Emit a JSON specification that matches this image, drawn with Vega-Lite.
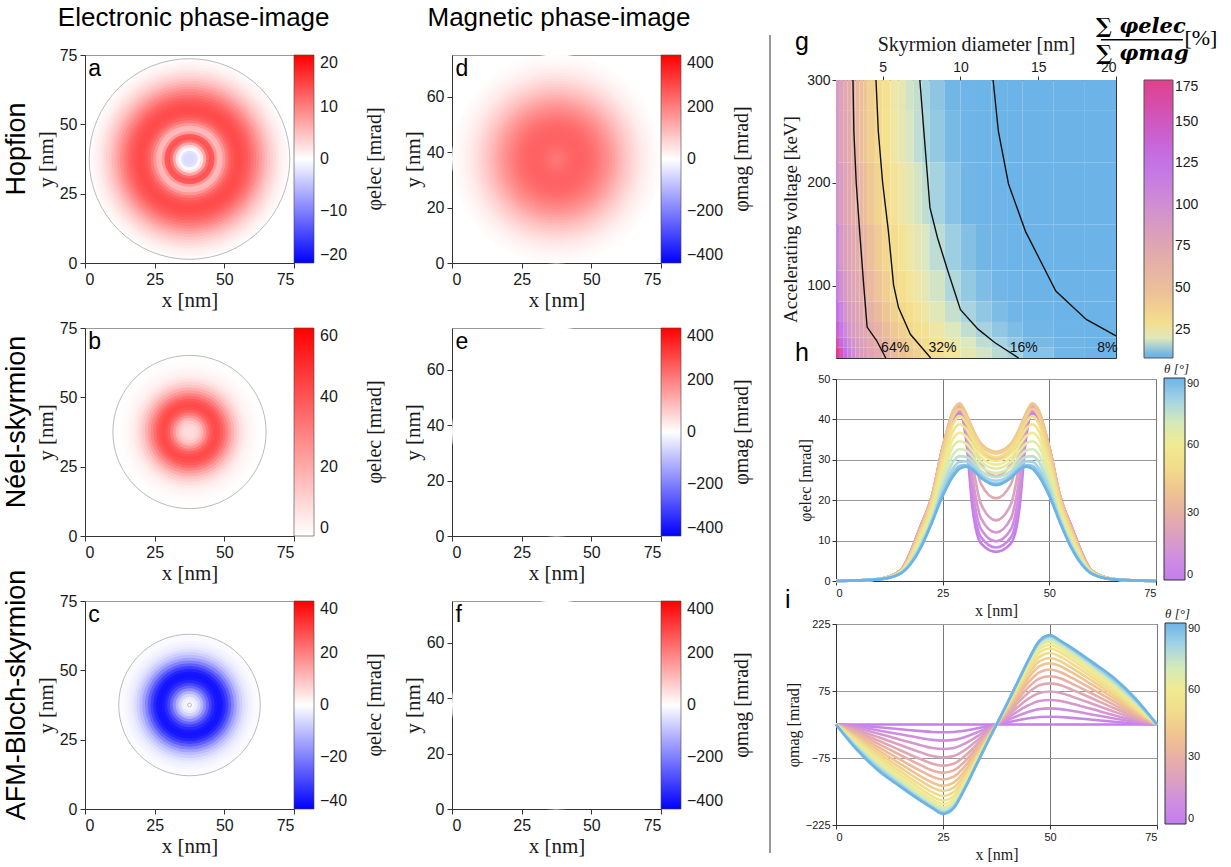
{
"$schema":"https://vega.github.io/schema/vega-lite/v6.json",
"background":"white",
"padding":{"left":0,"top":0,"right":0,"bottom":0},
"config":{"view":{"stroke":null},"font":"Liberation Sans",
"axis":{"labelFont":"Liberation Sans","titleFont":"Liberation Serif","titleFontWeight":"normal","labelColor":"#1a1a1a","titleColor":"#1a1a1a","domainColor":"#333333","tickColor":"#333333","grid":false,"labelOverlap":false},
"legend":{"labelFont":"Liberation Sans","titleFont":"Liberation Serif","titleFontWeight":"normal","labelColor":"#1a1a1a","titleColor":"#1a1a1a","titleLimit":400,"labelOverlap":false},
"title":{"font":"Liberation Sans","fontWeight":"normal","color":"#000000"},
"text":{"font":"Liberation Sans"}},
"datasets":{
"ra":[{"r":36,"v":0.35},{"r":35,"v":0.6},{"r":34,"v":1.0},{"r":33,"v":1.5},{"r":32,"v":2.1},{"r":31,"v":2.8},{"r":30,"v":3.6},{"r":29,"v":4.5},{"r":28,"v":5.5},{"r":27,"v":6.6},{"r":26,"v":7.8},{"r":25,"v":9},{"r":24,"v":10.1},{"r":23,"v":11.2},{"r":22,"v":12.2},{"r":21,"v":13},{"r":20,"v":13.6},{"r":19,"v":14},{"r":18,"v":14.1},{"r":17,"v":13.9},{"r":16,"v":13.3},{"r":15,"v":12.2},{"r":14,"v":10.5},{"r":13,"v":8.3},{"r":12,"v":5.8},{"r":11,"v":5.5},{"r":10,"v":8},{"r":9,"v":13},{"r":8,"v":13.5},{"r":7,"v":11.5},{"r":6,"v":7},{"r":5,"v":2.5},{"r":4,"v":-0.5},{"r":3,"v":-2.3},{"r":2,"v":-2.8},{"r":1,"v":-2.8}],
"rb":[{"r":27.5,"v":0.2},{"r":27,"v":0.3},{"r":26,"v":0.5},{"r":25,"v":0.8},{"r":24,"v":1.2},{"r":23,"v":1.8},{"r":22,"v":2.6},{"r":21,"v":3.7},{"r":20,"v":5.3},{"r":19,"v":7.5},{"r":18,"v":10.5},{"r":17,"v":14},{"r":16,"v":18.5},{"r":15,"v":23.5},{"r":14,"v":29},{"r":13,"v":34},{"r":12,"v":38.5},{"r":11,"v":41.5},{"r":10,"v":42.5},{"r":9,"v":41.5},{"r":8,"v":38},{"r":7,"v":32},{"r":6,"v":25},{"r":5,"v":18},{"r":4,"v":13},{"r":3,"v":10},{"r":2,"v":8.5},{"r":1,"v":8}],
"rc":[{"r":25.4,"v":-0.4},{"r":25,"v":-0.6},{"r":24,"v":-1.0},{"r":23,"v":-1.6},{"r":22,"v":-2.4},{"r":21,"v":-3.5},{"r":20,"v":-5.2},{"r":19,"v":-7.5},{"r":18,"v":-10.5},{"r":17,"v":-14.5},{"r":16,"v":-19.5},{"r":15,"v":-25},{"r":14,"v":-30},{"r":13,"v":-34},{"r":12,"v":-36.5},{"r":11,"v":-37},{"r":10,"v":-36},{"r":9,"v":-33.5},{"r":8,"v":-29.5},{"r":7,"v":-24},{"r":6,"v":-18},{"r":5,"v":-12},{"r":4,"v":-7},{"r":3,"v":-3.5},{"r":2,"v":-1.5},{"r":1,"v":-0.5}],
"rd":[{"r":37.5,"v":5},{"r":37,"v":6},{"r":36,"v":9},{"r":35,"v":13},{"r":34,"v":17},{"r":33,"v":23},{"r":32,"v":29},{"r":31,"v":36},{"r":30,"v":44},{"r":29,"v":53},{"r":28,"v":62},{"r":27,"v":73},{"r":26,"v":84},{"r":25,"v":96},{"r":24,"v":108},{"r":23,"v":121},{"r":22,"v":135},{"r":21,"v":148},{"r":20,"v":160},{"r":19,"v":172},{"r":18,"v":184},{"r":17,"v":195},{"r":16,"v":205},{"r":15,"v":215},{"r":14,"v":224},{"r":13,"v":231},{"r":12,"v":237},{"r":11,"v":241},{"r":10,"v":244},{"r":9,"v":246},{"r":8,"v":246},{"r":7,"v":245},{"r":6,"v":242},{"r":5,"v":237},{"r":4,"v":231},{"r":3,"v":224},{"r":2,"v":218},{"r":1,"v":215}],
"re":[{"r":37.5,"v":0}],
"gc":[
{"d0":2,"d1":2.25,"v0":270,"v1":300,"R":86},{"d0":2.25,"d1":2.5,"v0":270,"v1":300,"R":79},{"d0":2.5,"d1":2.75,"v0":270,"v1":300,"R":73},{"d0":2.75,"d1":3,"v0":270,"v1":300,"R":68},{"d0":3,"d1":3.25,"v0":270,"v1":300,"R":64},{"d0":3.25,"d1":3.5,"v0":270,"v1":300,"R":56},{"d0":3.5,"d1":3.75,"v0":270,"v1":300,"R":49},{"d0":3.75,"d1":4,"v0":270,"v1":300,"R":44},{"d0":4,"d1":4.5,"v0":270,"v1":300,"R":37},{"d0":4.5,"d1":5,"v0":270,"v1":300,"R":31},{"d0":5,"d1":5.5,"v0":270,"v1":300,"R":27},{"d0":5.5,"d1":6,"v0":270,"v1":300,"R":23},{"d0":6,"d1":6.5,"v0":270,"v1":300,"R":21},{"d0":6.5,"d1":7,"v0":270,"v1":300,"R":18},{"d0":7,"d1":7.5,"v0":270,"v1":300,"R":17},{"d0":7.5,"d1":8,"v0":270,"v1":300,"R":15},{"d0":8,"d1":9,"v0":270,"v1":300,"R":13},{"d0":9,"d1":10,"v0":270,"v1":300,"R":11},{"d0":10,"d1":11,"v0":270,"v1":300,"R":10},{"d0":11,"d1":12,"v0":270,"v1":300,"R":9},{"d0":12,"d1":13,"v0":270,"v1":300,"R":8},{"d0":13,"d1":14,"v0":270,"v1":300,"R":7},{"d0":14,"d1":16,"v0":270,"v1":300,"R":6},{"d0":16,"d1":18,"v0":270,"v1":300,"R":5},{"d0":18,"d1":20,"v0":270,"v1":300,"R":4},
{"d0":2,"d1":2.25,"v0":220,"v1":270,"R":87},{"d0":2.25,"d1":2.5,"v0":220,"v1":270,"R":80},{"d0":2.5,"d1":2.75,"v0":220,"v1":270,"R":74},{"d0":2.75,"d1":3,"v0":220,"v1":270,"R":69},{"d0":3,"d1":3.25,"v0":220,"v1":270,"R":65},{"d0":3.25,"d1":3.5,"v0":220,"v1":270,"R":57},{"d0":3.5,"d1":3.75,"v0":220,"v1":270,"R":50},{"d0":3.75,"d1":4,"v0":220,"v1":270,"R":45},{"d0":4,"d1":4.5,"v0":220,"v1":270,"R":38},{"d0":4.5,"d1":5,"v0":220,"v1":270,"R":31.5},{"d0":5,"d1":5.5,"v0":220,"v1":270,"R":27},{"d0":5.5,"d1":6,"v0":220,"v1":270,"R":23.6},{"d0":6,"d1":6.5,"v0":220,"v1":270,"R":21},{"d0":6.5,"d1":7,"v0":220,"v1":270,"R":18.7},{"d0":7,"d1":7.5,"v0":220,"v1":270,"R":16.8},{"d0":7.5,"d1":8,"v0":220,"v1":270,"R":15.3},{"d0":8,"d1":9,"v0":220,"v1":270,"R":13.5},{"d0":9,"d1":10,"v0":220,"v1":270,"R":11.5},{"d0":10,"d1":11,"v0":220,"v1":270,"R":10},{"d0":11,"d1":12,"v0":220,"v1":270,"R":8.8},{"d0":12,"d1":13,"v0":220,"v1":270,"R":7.8},{"d0":13,"d1":14,"v0":220,"v1":270,"R":7},{"d0":14,"d1":16,"v0":220,"v1":270,"R":6},{"d0":16,"d1":18,"v0":220,"v1":270,"R":5},{"d0":18,"d1":20,"v0":220,"v1":270,"R":4.3},
{"d0":2,"d1":2.25,"v0":160,"v1":220,"R":92},{"d0":2.25,"d1":2.5,"v0":160,"v1":220,"R":84},{"d0":2.5,"d1":2.75,"v0":160,"v1":220,"R":78},{"d0":2.75,"d1":3,"v0":160,"v1":220,"R":72},{"d0":3,"d1":3.25,"v0":160,"v1":220,"R":68},{"d0":3.25,"d1":3.5,"v0":160,"v1":220,"R":64},{"d0":3.5,"d1":3.75,"v0":160,"v1":220,"R":56},{"d0":3.75,"d1":4,"v0":160,"v1":220,"R":50},{"d0":4,"d1":4.5,"v0":160,"v1":220,"R":42},{"d0":4.5,"d1":5,"v0":160,"v1":220,"R":35},{"d0":5,"d1":5.5,"v0":160,"v1":220,"R":30},{"d0":5.5,"d1":6,"v0":160,"v1":220,"R":26},{"d0":6,"d1":6.5,"v0":160,"v1":220,"R":23},{"d0":6.5,"d1":7,"v0":160,"v1":220,"R":20.5},{"d0":7,"d1":7.5,"v0":160,"v1":220,"R":18.4},{"d0":7.5,"d1":8,"v0":160,"v1":220,"R":16.7},{"d0":8,"d1":9,"v0":160,"v1":220,"R":14.8},{"d0":9,"d1":10,"v0":160,"v1":220,"R":12.6},{"d0":10,"d1":11,"v0":160,"v1":220,"R":10.9},{"d0":11,"d1":12,"v0":160,"v1":220,"R":9.6},{"d0":12,"d1":13,"v0":160,"v1":220,"R":8.6},{"d0":13,"d1":14,"v0":160,"v1":220,"R":7.7},{"d0":14,"d1":16,"v0":160,"v1":220,"R":6.6},{"d0":16,"d1":18,"v0":160,"v1":220,"R":5.5},{"d0":18,"d1":20,"v0":160,"v1":220,"R":4.7},
{"d0":2,"d1":2.25,"v0":115,"v1":160,"R":103},{"d0":2.25,"d1":2.5,"v0":115,"v1":160,"R":90},{"d0":2.5,"d1":2.75,"v0":115,"v1":160,"R":82},{"d0":2.75,"d1":3,"v0":115,"v1":160,"R":77},{"d0":3,"d1":3.25,"v0":115,"v1":160,"R":72},{"d0":3.25,"d1":3.5,"v0":115,"v1":160,"R":68},{"d0":3.5,"d1":3.75,"v0":115,"v1":160,"R":64},{"d0":3.75,"d1":4,"v0":115,"v1":160,"R":58},{"d0":4,"d1":4.5,"v0":115,"v1":160,"R":49},{"d0":4.5,"d1":5,"v0":115,"v1":160,"R":40.5},{"d0":5,"d1":5.5,"v0":115,"v1":160,"R":34},{"d0":5.5,"d1":6,"v0":115,"v1":160,"R":29.4},{"d0":6,"d1":6.5,"v0":115,"v1":160,"R":26},{"d0":6.5,"d1":7,"v0":115,"v1":160,"R":23.2},{"d0":7,"d1":7.5,"v0":115,"v1":160,"R":20.9},{"d0":7.5,"d1":8,"v0":115,"v1":160,"R":18.9},{"d0":8,"d1":9,"v0":115,"v1":160,"R":16.6},{"d0":9,"d1":10,"v0":115,"v1":160,"R":14.2},{"d0":10,"d1":11,"v0":115,"v1":160,"R":12.3},{"d0":11,"d1":12,"v0":115,"v1":160,"R":10.8},{"d0":12,"d1":13,"v0":115,"v1":160,"R":9.7},{"d0":13,"d1":14,"v0":115,"v1":160,"R":8.7},{"d0":14,"d1":16,"v0":115,"v1":160,"R":7.5},{"d0":16,"d1":18,"v0":115,"v1":160,"R":6.3},{"d0":18,"d1":20,"v0":115,"v1":160,"R":5.3},
{"d0":2,"d1":2.25,"v0":85,"v1":115,"R":112},{"d0":2.25,"d1":2.5,"v0":85,"v1":115,"R":97},{"d0":2.5,"d1":2.75,"v0":85,"v1":115,"R":87},{"d0":2.75,"d1":3,"v0":85,"v1":115,"R":81},{"d0":3,"d1":3.25,"v0":85,"v1":115,"R":76},{"d0":3.25,"d1":3.5,"v0":85,"v1":115,"R":73},{"d0":3.5,"d1":3.75,"v0":85,"v1":115,"R":68},{"d0":3.75,"d1":4,"v0":85,"v1":115,"R":64},{"d0":4,"d1":4.5,"v0":85,"v1":115,"R":55},{"d0":4.5,"d1":5,"v0":85,"v1":115,"R":45},{"d0":5,"d1":5.5,"v0":85,"v1":115,"R":38},{"d0":5.5,"d1":6,"v0":85,"v1":115,"R":33},{"d0":6,"d1":6.5,"v0":85,"v1":115,"R":29},{"d0":6.5,"d1":7,"v0":85,"v1":115,"R":25.6},{"d0":7,"d1":7.5,"v0":85,"v1":115,"R":23},{"d0":7.5,"d1":8,"v0":85,"v1":115,"R":20.9},{"d0":8,"d1":9,"v0":85,"v1":115,"R":18.2},{"d0":9,"d1":10,"v0":85,"v1":115,"R":15.5},{"d0":10,"d1":11,"v0":85,"v1":115,"R":13.5},{"d0":11,"d1":12,"v0":85,"v1":115,"R":11.9},{"d0":12,"d1":13,"v0":85,"v1":115,"R":10.6},{"d0":13,"d1":14,"v0":85,"v1":115,"R":9.5},{"d0":14,"d1":16,"v0":85,"v1":115,"R":8.2},{"d0":16,"d1":18,"v0":85,"v1":115,"R":6.9},{"d0":18,"d1":20,"v0":85,"v1":115,"R":5.9},
{"d0":2,"d1":2.25,"v0":65,"v1":85,"R":123},{"d0":2.25,"d1":2.5,"v0":65,"v1":85,"R":107},{"d0":2.5,"d1":2.75,"v0":65,"v1":85,"R":94},{"d0":2.75,"d1":3,"v0":65,"v1":85,"R":86},{"d0":3,"d1":3.25,"v0":65,"v1":85,"R":81},{"d0":3.25,"d1":3.5,"v0":65,"v1":85,"R":76},{"d0":3.5,"d1":3.75,"v0":65,"v1":85,"R":72},{"d0":3.75,"d1":4,"v0":65,"v1":85,"R":68},{"d0":4,"d1":4.5,"v0":65,"v1":85,"R":63},{"d0":4.5,"d1":5,"v0":65,"v1":85,"R":52},{"d0":5,"d1":5.5,"v0":65,"v1":85,"R":44},{"d0":5.5,"d1":6,"v0":65,"v1":85,"R":37},{"d0":6,"d1":6.5,"v0":65,"v1":85,"R":32},{"d0":6.5,"d1":7,"v0":65,"v1":85,"R":29},{"d0":7,"d1":7.5,"v0":65,"v1":85,"R":26},{"d0":7.5,"d1":8,"v0":65,"v1":85,"R":23.3},{"d0":8,"d1":9,"v0":65,"v1":85,"R":20.4},{"d0":9,"d1":10,"v0":65,"v1":85,"R":17.4},{"d0":10,"d1":11,"v0":65,"v1":85,"R":15},{"d0":11,"d1":12,"v0":65,"v1":85,"R":13.3},{"d0":12,"d1":13,"v0":65,"v1":85,"R":11.8},{"d0":13,"d1":14,"v0":65,"v1":85,"R":10.6},{"d0":14,"d1":16,"v0":65,"v1":85,"R":9.2},{"d0":16,"d1":18,"v0":65,"v1":85,"R":7.6},{"d0":18,"d1":20,"v0":65,"v1":85,"R":6.5},
{"d0":2,"d1":2.25,"v0":50,"v1":65,"R":138},{"d0":2.25,"d1":2.5,"v0":50,"v1":65,"R":119},{"d0":2.5,"d1":2.75,"v0":50,"v1":65,"R":105},{"d0":2.75,"d1":3,"v0":50,"v1":65,"R":93},{"d0":3,"d1":3.25,"v0":50,"v1":65,"R":86},{"d0":3.25,"d1":3.5,"v0":50,"v1":65,"R":81},{"d0":3.5,"d1":3.75,"v0":50,"v1":65,"R":77},{"d0":3.75,"d1":4,"v0":50,"v1":65,"R":73},{"d0":4,"d1":4.5,"v0":50,"v1":65,"R":68},{"d0":4.5,"d1":5,"v0":50,"v1":65,"R":60},{"d0":5,"d1":5.5,"v0":50,"v1":65,"R":51},{"d0":5.5,"d1":6,"v0":50,"v1":65,"R":43},{"d0":6,"d1":6.5,"v0":50,"v1":65,"R":37},{"d0":6.5,"d1":7,"v0":50,"v1":65,"R":33},{"d0":7,"d1":7.5,"v0":50,"v1":65,"R":29},{"d0":7.5,"d1":8,"v0":50,"v1":65,"R":26.4},{"d0":8,"d1":9,"v0":50,"v1":65,"R":23},{"d0":9,"d1":10,"v0":50,"v1":65,"R":19.5},{"d0":10,"d1":11,"v0":50,"v1":65,"R":17},{"d0":11,"d1":12,"v0":50,"v1":65,"R":14.9},{"d0":12,"d1":13,"v0":50,"v1":65,"R":13.3},{"d0":13,"d1":14,"v0":50,"v1":65,"R":11.9},{"d0":14,"d1":16,"v0":50,"v1":65,"R":10.3},{"d0":16,"d1":18,"v0":50,"v1":65,"R":8.6},{"d0":18,"d1":20,"v0":50,"v1":65,"R":7.3},
{"d0":2,"d1":2.25,"v0":40,"v1":50,"R":154},{"d0":2.25,"d1":2.5,"v0":40,"v1":50,"R":133},{"d0":2.5,"d1":2.75,"v0":40,"v1":50,"R":117},{"d0":2.75,"d1":3,"v0":40,"v1":50,"R":104},{"d0":3,"d1":3.25,"v0":40,"v1":50,"R":94},{"d0":3.25,"d1":3.5,"v0":40,"v1":50,"R":87},{"d0":3.5,"d1":3.75,"v0":40,"v1":50,"R":82},{"d0":3.75,"d1":4,"v0":40,"v1":50,"R":78},{"d0":4,"d1":4.5,"v0":40,"v1":50,"R":73},{"d0":4.5,"d1":5,"v0":40,"v1":50,"R":67},{"d0":5,"d1":5.5,"v0":40,"v1":50,"R":59},{"d0":5.5,"d1":6,"v0":40,"v1":50,"R":50},{"d0":6,"d1":6.5,"v0":40,"v1":50,"R":43},{"d0":6.5,"d1":7,"v0":40,"v1":50,"R":38},{"d0":7,"d1":7.5,"v0":40,"v1":50,"R":34},{"d0":7.5,"d1":8,"v0":40,"v1":50,"R":30},{"d0":8,"d1":9,"v0":40,"v1":50,"R":26},{"d0":9,"d1":10,"v0":40,"v1":50,"R":22},{"d0":10,"d1":11,"v0":40,"v1":50,"R":19},{"d0":11,"d1":12,"v0":40,"v1":50,"R":16.8},{"d0":12,"d1":13,"v0":40,"v1":50,"R":15},{"d0":13,"d1":14,"v0":40,"v1":50,"R":13.4},{"d0":14,"d1":16,"v0":40,"v1":50,"R":11.5},{"d0":16,"d1":18,"v0":40,"v1":50,"R":9.7},{"d0":18,"d1":20,"v0":40,"v1":50,"R":8.3},
{"d0":2,"d1":2.25,"v0":30,"v1":40,"R":185},{"d0":2.25,"d1":2.5,"v0":30,"v1":40,"R":150},{"d0":2.5,"d1":2.75,"v0":30,"v1":40,"R":128},{"d0":2.75,"d1":3,"v0":30,"v1":40,"R":113},{"d0":3,"d1":3.25,"v0":30,"v1":40,"R":101},{"d0":3.25,"d1":3.5,"v0":30,"v1":40,"R":91},{"d0":3.5,"d1":3.75,"v0":30,"v1":40,"R":86},{"d0":3.75,"d1":4,"v0":30,"v1":40,"R":82},{"d0":4,"d1":4.5,"v0":30,"v1":40,"R":76},{"d0":4.5,"d1":5,"v0":30,"v1":40,"R":70},{"d0":5,"d1":5.5,"v0":30,"v1":40,"R":64},{"d0":5.5,"d1":6,"v0":30,"v1":40,"R":55},{"d0":6,"d1":6.5,"v0":30,"v1":40,"R":48},{"d0":6.5,"d1":7,"v0":30,"v1":40,"R":42},{"d0":7,"d1":7.5,"v0":30,"v1":40,"R":37},{"d0":7.5,"d1":8,"v0":30,"v1":40,"R":33},{"d0":8,"d1":9,"v0":30,"v1":40,"R":29},{"d0":9,"d1":10,"v0":30,"v1":40,"R":24},{"d0":10,"d1":11,"v0":30,"v1":40,"R":21},{"d0":11,"d1":12,"v0":30,"v1":40,"R":18.3},{"d0":12,"d1":13,"v0":30,"v1":40,"R":16.3},{"d0":13,"d1":14,"v0":30,"v1":40,"R":14.7},{"d0":14,"d1":16,"v0":30,"v1":40,"R":12.6},{"d0":16,"d1":18,"v0":30,"v1":40,"R":10.6},{"d0":18,"d1":20,"v0":30,"v1":40,"R":9.1}],
"gl":[
{"c":"64","d":3.09,"V":300},{"c":"64","d":3.15,"V":250},{"c":"64","d":3.3,"V":200},{"c":"64","d":3.52,"V":153},{"c":"64","d":3.78,"V":101},{"c":"64","d":4.0,"V":60},{"c":"64","d":4.61,"V":47},{"c":"64","d":5.2,"V":30},
{"c":"32","d":4.57,"V":300},{"c":"32","d":4.72,"V":250},{"c":"32","d":5.0,"V":200},{"c":"32","d":5.37,"V":153},{"c":"32","d":5.7,"V":101},{"c":"32","d":6.02,"V":79},{"c":"32","d":6.78,"V":53},{"c":"32","d":8.09,"V":30},
{"c":"16","d":7.39,"V":300},{"c":"16","d":7.65,"V":250},{"c":"16","d":8.04,"V":176},{"c":"16","d":8.52,"V":147},{"c":"16","d":9.18,"V":115},{"c":"16","d":10.0,"V":77},{"c":"16","d":11.13,"V":58},{"c":"16","d":12.2,"V":45},{"c":"16","d":13.74,"V":30},
{"c":"8","d":12.1,"V":300},{"c":"8","d":12.44,"V":250},{"c":"8","d":13.09,"V":199},{"c":"8","d":14.18,"V":153},{"c":"8","d":16.13,"V":95},{"c":"8","d":18.09,"V":67.5},{"c":"8","d":20,"V":51.5}],
"gt":[{"d":5.8,"V":40,"t":"64%"},{"d":8.85,"V":40,"t":"32%"},{"d":14.07,"V":40,"t":"16%"},{"d":19.45,"V":40,"t":"8%"}],
"hl":[
{"t":0,"x":0,"v":0},{"t":0,"x":10,"v":0.5},{"t":0,"x":15,"v":2.5},{"t":0,"x":20,"v":14},{"t":0,"x":22.5,"v":21},{"t":0,"x":25,"v":33},{"t":0,"x":27.5,"v":40.3},{"t":0,"x":29,"v":41.5},{"t":0,"x":30.5,"v":35},{"t":0,"x":32,"v":18},{"t":0,"x":34,"v":9.3},{"t":0,"x":37.5,"v":7.2},{"t":0,"x":41,"v":9.3},{"t":0,"x":43,"v":18},{"t":0,"x":44.5,"v":35},{"t":0,"x":46,"v":41.5},{"t":0,"x":47.5,"v":40.3},{"t":0,"x":50,"v":33},{"t":0,"x":52.5,"v":21},{"t":0,"x":55,"v":14},{"t":0,"x":60,"v":2.5},{"t":0,"x":65,"v":0.5},{"t":0,"x":75,"v":0},
{"t":5,"x":0,"v":0},{"t":5,"x":10,"v":0.5},{"t":5,"x":15,"v":2.5},{"t":5,"x":20,"v":14},{"t":5,"x":22.5,"v":21},{"t":5,"x":25,"v":33},{"t":5,"x":27.5,"v":40.5},{"t":5,"x":29,"v":41.8},{"t":5,"x":30.5,"v":36},{"t":5,"x":32,"v":20},{"t":5,"x":34,"v":10.8},{"t":5,"x":37.5,"v":8.3},{"t":5,"x":41,"v":10.8},{"t":5,"x":43,"v":20},{"t":5,"x":44.5,"v":36},{"t":5,"x":46,"v":41.8},{"t":5,"x":47.5,"v":40.5},{"t":5,"x":50,"v":33},{"t":5,"x":52.5,"v":21},{"t":5,"x":55,"v":14},{"t":5,"x":60,"v":2.5},{"t":5,"x":65,"v":0.5},{"t":5,"x":75,"v":0},
{"t":10,"x":0,"v":0},{"t":10,"x":10,"v":0.5},{"t":10,"x":15,"v":2.5},{"t":10,"x":20,"v":14},{"t":10,"x":22.5,"v":21},{"t":10,"x":25,"v":33},{"t":10,"x":27.5,"v":40.8},{"t":10,"x":29,"v":42.2},{"t":10,"x":30.5,"v":37},{"t":10,"x":32,"v":22.5},{"t":10,"x":34,"v":12.8},{"t":10,"x":37.5,"v":9.8},{"t":10,"x":41,"v":12.8},{"t":10,"x":43,"v":22.5},{"t":10,"x":44.5,"v":37},{"t":10,"x":46,"v":42.2},{"t":10,"x":47.5,"v":40.8},{"t":10,"x":50,"v":33},{"t":10,"x":52.5,"v":21},{"t":10,"x":55,"v":14},{"t":10,"x":60,"v":2.5},{"t":10,"x":65,"v":0.5},{"t":10,"x":75,"v":0},
{"t":15,"x":0,"v":0},{"t":15,"x":10,"v":0.5},{"t":15,"x":15,"v":2.5},{"t":15,"x":20,"v":14},{"t":15,"x":22.5,"v":21},{"t":15,"x":25,"v":33},{"t":15,"x":27.5,"v":41},{"t":15,"x":29,"v":42.6},{"t":15,"x":30.5,"v":38},{"t":15,"x":32,"v":25.5},{"t":15,"x":34,"v":15.5},{"t":15,"x":37.5,"v":12},{"t":15,"x":41,"v":15.5},{"t":15,"x":43,"v":25.5},{"t":15,"x":44.5,"v":38},{"t":15,"x":46,"v":42.6},{"t":15,"x":47.5,"v":41},{"t":15,"x":50,"v":33},{"t":15,"x":52.5,"v":21},{"t":15,"x":55,"v":14},{"t":15,"x":60,"v":2.5},{"t":15,"x":65,"v":0.5},{"t":15,"x":75,"v":0},
{"t":20,"x":0,"v":0},{"t":20,"x":10,"v":0.5},{"t":20,"x":15,"v":2.5},{"t":20,"x":20,"v":13.9},{"t":20,"x":22.5,"v":21},{"t":20,"x":25,"v":33},{"t":20,"x":27.5,"v":41.3},{"t":20,"x":29,"v":43},{"t":20,"x":30.5,"v":39},{"t":20,"x":32,"v":29},{"t":20,"x":34,"v":19},{"t":20,"x":37.5,"v":15},{"t":20,"x":41,"v":19},{"t":20,"x":43,"v":29},{"t":20,"x":44.5,"v":39},{"t":20,"x":46,"v":43},{"t":20,"x":47.5,"v":41.3},{"t":20,"x":50,"v":33},{"t":20,"x":52.5,"v":21},{"t":20,"x":55,"v":13.9},{"t":20,"x":60,"v":2.5},{"t":20,"x":65,"v":0.5},{"t":20,"x":75,"v":0},
{"t":25,"x":0,"v":0},{"t":25,"x":10,"v":0.5},{"t":25,"x":15,"v":2.5},{"t":25,"x":20,"v":13.8},{"t":25,"x":22.5,"v":21},{"t":25,"x":25,"v":33},{"t":25,"x":27.5,"v":41.6},{"t":25,"x":29,"v":43.4},{"t":25,"x":30.5,"v":40},{"t":25,"x":32,"v":32.5},{"t":25,"x":34,"v":24},{"t":25,"x":37.5,"v":20.5},{"t":25,"x":41,"v":24},{"t":25,"x":43,"v":32.5},{"t":25,"x":44.5,"v":40},{"t":25,"x":46,"v":43.4},{"t":25,"x":47.5,"v":41.6},{"t":25,"x":50,"v":33},{"t":25,"x":52.5,"v":21},{"t":25,"x":55,"v":13.8},{"t":25,"x":60,"v":2.5},{"t":25,"x":65,"v":0.5},{"t":25,"x":75,"v":0},
{"t":30,"x":0,"v":0},{"t":30,"x":10,"v":0.5},{"t":30,"x":15,"v":2.5},{"t":30,"x":20,"v":13.7},{"t":30,"x":22.5,"v":21},{"t":30,"x":25,"v":33},{"t":30,"x":27.5,"v":42},{"t":30,"x":29,"v":43.7},{"t":30,"x":30.5,"v":40.8},{"t":30,"x":32,"v":35.5},{"t":30,"x":34,"v":29},{"t":30,"x":37.5,"v":26},{"t":30,"x":41,"v":29},{"t":30,"x":43,"v":35.5},{"t":30,"x":44.5,"v":40.8},{"t":30,"x":46,"v":43.7},{"t":30,"x":47.5,"v":42},{"t":30,"x":50,"v":33},{"t":30,"x":52.5,"v":21},{"t":30,"x":55,"v":13.7},{"t":30,"x":60,"v":2.5},{"t":30,"x":65,"v":0.5},{"t":30,"x":75,"v":0},
{"t":35,"x":0,"v":0},{"t":35,"x":10,"v":0.5},{"t":35,"x":15,"v":2.5},{"t":35,"x":20,"v":13.5},{"t":35,"x":22.5,"v":21},{"t":35,"x":25,"v":33},{"t":35,"x":27.5,"v":42.3},{"t":35,"x":29,"v":43.9},{"t":35,"x":30.5,"v":41.2},{"t":35,"x":32,"v":37},{"t":35,"x":34,"v":32.3},{"t":35,"x":37.5,"v":30.2},{"t":35,"x":41,"v":32.3},{"t":35,"x":43,"v":37},{"t":35,"x":44.5,"v":41.2},{"t":35,"x":46,"v":43.9},{"t":35,"x":47.5,"v":42.3},{"t":35,"x":50,"v":33},{"t":35,"x":52.5,"v":21},{"t":35,"x":55,"v":13.5},{"t":35,"x":60,"v":2.5},{"t":35,"x":65,"v":0.5},{"t":35,"x":75,"v":0},
{"t":40,"x":0,"v":0},{"t":40,"x":10,"v":0.5},{"t":40,"x":15,"v":2.4},{"t":40,"x":20,"v":13.3},{"t":40,"x":22.5,"v":20.7},{"t":40,"x":25,"v":32.6},{"t":40,"x":27.5,"v":42},{"t":40,"x":29,"v":43.9},{"t":40,"x":30.5,"v":41.5},{"t":40,"x":32,"v":37.8},{"t":40,"x":34,"v":34},{"t":40,"x":37.5,"v":32},{"t":40,"x":41,"v":34},{"t":40,"x":43,"v":37.8},{"t":40,"x":44.5,"v":41.5},{"t":40,"x":46,"v":43.9},{"t":40,"x":47.5,"v":42},{"t":40,"x":50,"v":32.6},{"t":40,"x":52.5,"v":20.7},{"t":40,"x":55,"v":13.3},{"t":40,"x":60,"v":2.4},{"t":40,"x":65,"v":0.5},{"t":40,"x":75,"v":0},
{"t":45,"x":0,"v":0},{"t":45,"x":10,"v":0.5},{"t":45,"x":15,"v":2.3},{"t":45,"x":20,"v":12.8},{"t":45,"x":22.5,"v":20},{"t":45,"x":25,"v":31.5},{"t":45,"x":27.5,"v":40.8},{"t":45,"x":29,"v":42.6},{"t":45,"x":30.5,"v":40.6},{"t":45,"x":32,"v":37.3},{"t":45,"x":34,"v":33.5},{"t":45,"x":37.5,"v":31.5},{"t":45,"x":41,"v":33.5},{"t":45,"x":43,"v":37.3},{"t":45,"x":44.5,"v":40.6},{"t":45,"x":46,"v":42.6},{"t":45,"x":47.5,"v":40.8},{"t":45,"x":50,"v":31.5},{"t":45,"x":52.5,"v":20},{"t":45,"x":55,"v":12.8},{"t":45,"x":60,"v":2.3},{"t":45,"x":65,"v":0.5},{"t":45,"x":75,"v":0},
{"t":50,"x":0,"v":0},{"t":50,"x":10,"v":0.5},{"t":50,"x":15,"v":2.2},{"t":50,"x":20,"v":12.2},{"t":50,"x":22.5,"v":19.2},{"t":50,"x":25,"v":30.2},{"t":50,"x":27.5,"v":39},{"t":50,"x":29,"v":40.8},{"t":50,"x":30.5,"v":39.2},{"t":50,"x":32,"v":36.3},{"t":50,"x":34,"v":32.7},{"t":50,"x":37.5,"v":30.6},{"t":50,"x":41,"v":32.7},{"t":50,"x":43,"v":36.3},{"t":50,"x":44.5,"v":39.2},{"t":50,"x":46,"v":40.8},{"t":50,"x":47.5,"v":39},{"t":50,"x":50,"v":30.2},{"t":50,"x":52.5,"v":19.2},{"t":50,"x":55,"v":12.2},{"t":50,"x":60,"v":2.2},{"t":50,"x":65,"v":0.5},{"t":50,"x":75,"v":0},
{"t":55,"x":0,"v":0},{"t":55,"x":10,"v":0.5},{"t":55,"x":15,"v":2.1},{"t":55,"x":20,"v":11.6},{"t":55,"x":22.5,"v":18.4},{"t":55,"x":25,"v":28.9},{"t":55,"x":27.5,"v":37.2},{"t":55,"x":29,"v":38.8},{"t":55,"x":30.5,"v":37.6},{"t":55,"x":32,"v":35},{"t":55,"x":34,"v":31.7},{"t":55,"x":37.5,"v":29.7},{"t":55,"x":41,"v":31.7},{"t":55,"x":43,"v":35},{"t":55,"x":44.5,"v":37.6},{"t":55,"x":46,"v":38.8},{"t":55,"x":47.5,"v":37.2},{"t":55,"x":50,"v":28.9},{"t":55,"x":52.5,"v":18.4},{"t":55,"x":55,"v":11.6},{"t":55,"x":60,"v":2.1},{"t":55,"x":65,"v":0.5},{"t":55,"x":75,"v":0},
{"t":60,"x":0,"v":0},{"t":60,"x":10,"v":0.4},{"t":60,"x":15,"v":2},{"t":60,"x":20,"v":11},{"t":60,"x":22.5,"v":17.6},{"t":60,"x":25,"v":27.6},{"t":60,"x":27.5,"v":35.3},{"t":60,"x":29,"v":36.7},{"t":60,"x":30.5,"v":35.8},{"t":60,"x":32,"v":33.6},{"t":60,"x":34,"v":30.6},{"t":60,"x":37.5,"v":28.8},{"t":60,"x":41,"v":30.6},{"t":60,"x":43,"v":33.6},{"t":60,"x":44.5,"v":35.8},{"t":60,"x":46,"v":36.7},{"t":60,"x":47.5,"v":35.3},{"t":60,"x":50,"v":27.6},{"t":60,"x":52.5,"v":17.6},{"t":60,"x":55,"v":11},{"t":60,"x":60,"v":2},{"t":60,"x":65,"v":0.4},{"t":60,"x":75,"v":0},
{"t":65,"x":0,"v":0},{"t":65,"x":10,"v":0.4},{"t":65,"x":15,"v":2},{"t":65,"x":20,"v":10.4},{"t":65,"x":22.5,"v":16.8},{"t":65,"x":25,"v":26.3},{"t":65,"x":27.5,"v":33.4},{"t":65,"x":29,"v":34.6},{"t":65,"x":30.5,"v":34},{"t":65,"x":32,"v":32.2},{"t":65,"x":34,"v":29.5},{"t":65,"x":37.5,"v":27.8},{"t":65,"x":41,"v":29.5},{"t":65,"x":43,"v":32.2},{"t":65,"x":44.5,"v":34},{"t":65,"x":46,"v":34.6},{"t":65,"x":47.5,"v":33.4},{"t":65,"x":50,"v":26.3},{"t":65,"x":52.5,"v":16.8},{"t":65,"x":55,"v":10.4},{"t":65,"x":60,"v":2},{"t":65,"x":65,"v":0.4},{"t":65,"x":75,"v":0},
{"t":70,"x":0,"v":0},{"t":70,"x":10,"v":0.4},{"t":70,"x":15,"v":1.9},{"t":70,"x":20,"v":9.8},{"t":70,"x":22.5,"v":16},{"t":70,"x":25,"v":24.9},{"t":70,"x":27.5,"v":31.4},{"t":70,"x":29,"v":32.6},{"t":70,"x":30.5,"v":32.3},{"t":70,"x":32,"v":30.8},{"t":70,"x":34,"v":28.3},{"t":70,"x":37.5,"v":26.8},{"t":70,"x":41,"v":28.3},{"t":70,"x":43,"v":30.8},{"t":70,"x":44.5,"v":32.3},{"t":70,"x":46,"v":32.6},{"t":70,"x":47.5,"v":31.4},{"t":70,"x":50,"v":24.9},{"t":70,"x":52.5,"v":16},{"t":70,"x":55,"v":9.8},{"t":70,"x":60,"v":1.9},{"t":70,"x":65,"v":0.4},{"t":70,"x":75,"v":0},
{"t":75,"x":0,"v":0},{"t":75,"x":10,"v":0.4},{"t":75,"x":15,"v":1.9},{"t":75,"x":20,"v":9.3},{"t":75,"x":22.5,"v":15.4},{"t":75,"x":25,"v":23.6},{"t":75,"x":27.5,"v":29.6},{"t":75,"x":29,"v":30.9},{"t":75,"x":30.5,"v":30.7},{"t":75,"x":32,"v":29.6},{"t":75,"x":34,"v":27.2},{"t":75,"x":37.5,"v":25.7},{"t":75,"x":41,"v":27.2},{"t":75,"x":43,"v":29.6},{"t":75,"x":44.5,"v":30.7},{"t":75,"x":46,"v":30.9},{"t":75,"x":47.5,"v":29.6},{"t":75,"x":50,"v":23.6},{"t":75,"x":52.5,"v":15.4},{"t":75,"x":55,"v":9.3},{"t":75,"x":60,"v":1.9},{"t":75,"x":65,"v":0.4},{"t":75,"x":75,"v":0},
{"t":80,"x":0,"v":0},{"t":80,"x":10,"v":0.4},{"t":80,"x":15,"v":1.8},{"t":80,"x":20,"v":8.9},{"t":80,"x":22.5,"v":14.9},{"t":80,"x":25,"v":22.4},{"t":80,"x":27.5,"v":28},{"t":80,"x":29,"v":29.5},{"t":80,"x":30.5,"v":29.6},{"t":80,"x":32,"v":28.6},{"t":80,"x":34,"v":26.4},{"t":80,"x":37.5,"v":24.8},{"t":80,"x":41,"v":26.4},{"t":80,"x":43,"v":28.6},{"t":80,"x":44.5,"v":29.6},{"t":80,"x":46,"v":29.5},{"t":80,"x":47.5,"v":28},{"t":80,"x":50,"v":22.4},{"t":80,"x":52.5,"v":14.9},{"t":80,"x":55,"v":8.9},{"t":80,"x":60,"v":1.8},{"t":80,"x":65,"v":0.4},{"t":80,"x":75,"v":0},
{"t":85,"x":0,"v":0},{"t":85,"x":10,"v":0.4},{"t":85,"x":15,"v":1.8},{"t":85,"x":20,"v":8.6},{"t":85,"x":22.5,"v":14.6},{"t":85,"x":25,"v":21.5},{"t":85,"x":27.5,"v":26.8},{"t":85,"x":29,"v":28.5},{"t":85,"x":30.5,"v":28.7},{"t":85,"x":32,"v":27.9},{"t":85,"x":34,"v":25.8},{"t":85,"x":37.5,"v":24.1},{"t":85,"x":41,"v":25.8},{"t":85,"x":43,"v":27.9},{"t":85,"x":44.5,"v":28.7},{"t":85,"x":46,"v":28.5},{"t":85,"x":47.5,"v":26.8},{"t":85,"x":50,"v":21.5},{"t":85,"x":52.5,"v":14.6},{"t":85,"x":55,"v":8.6},{"t":85,"x":60,"v":1.8},{"t":85,"x":65,"v":0.4},{"t":85,"x":75,"v":0},
{"t":90,"x":0,"v":0},{"t":90,"x":10,"v":0.4},{"t":90,"x":15,"v":1.8},{"t":90,"x":20,"v":8.5},{"t":90,"x":22.5,"v":14.5},{"t":90,"x":25,"v":21},{"t":90,"x":27.5,"v":26},{"t":90,"x":29,"v":27.8},{"t":90,"x":30.5,"v":28.3},{"t":90,"x":32,"v":27.5},{"t":90,"x":34,"v":25.5},{"t":90,"x":37.5,"v":23.7},{"t":90,"x":41,"v":25.5},{"t":90,"x":43,"v":27.5},{"t":90,"x":44.5,"v":28.3},{"t":90,"x":46,"v":27.8},{"t":90,"x":47.5,"v":26},{"t":90,"x":50,"v":21},{"t":90,"x":52.5,"v":14.5},{"t":90,"x":55,"v":8.5},{"t":90,"x":60,"v":1.8},{"t":90,"x":65,"v":0.4},{"t":90,"x":75,"v":0}],
"il":[
{"t":0,"x":0,"v":0},{"t":0,"x":37.5,"v":0},{"t":0,"x":75,"v":0},
{"t":5,"x":0,"v":0},{"t":5,"x":5,"v":-2.6},{"t":5,"x":10,"v":-6.3},{"t":5,"x":15,"v":-10.6},{"t":5,"x":20,"v":-14.9},{"t":5,"x":22.5,"v":-16.8},{"t":5,"x":25,"v":-17.5},{"t":5,"x":27.5,"v":-16.8},{"t":5,"x":30,"v":-13.9},{"t":5,"x":32.5,"v":-9.6},{"t":5,"x":35,"v":-4.7},{"t":5,"x":37.5,"v":0},{"t":5,"x":40,"v":4.7},{"t":5,"x":42.5,"v":9.6},{"t":5,"x":45,"v":13.9},{"t":5,"x":47.5,"v":16.8},{"t":5,"x":50,"v":17.5},{"t":5,"x":52.5,"v":16.8},{"t":5,"x":55,"v":14.9},{"t":5,"x":60,"v":10.6},{"t":5,"x":65,"v":6.3},{"t":5,"x":70,"v":2.6},{"t":5,"x":75,"v":0},
{"t":10,"x":0,"v":0},{"t":10,"x":5,"v":-5.7},{"t":10,"x":10,"v":-13.3},{"t":10,"x":15,"v":-22},{"t":10,"x":20,"v":-30.6},{"t":10,"x":22.5,"v":-34.5},{"t":10,"x":25,"v":-36},{"t":10,"x":27.5,"v":-34.5},{"t":10,"x":30,"v":-28.5},{"t":10,"x":32.5,"v":-19.5},{"t":10,"x":35,"v":-9.6},{"t":10,"x":37.5,"v":0},{"t":10,"x":40,"v":9.6},{"t":10,"x":42.5,"v":19.5},{"t":10,"x":45,"v":28.5},{"t":10,"x":47.5,"v":34.5},{"t":10,"x":50,"v":36},{"t":10,"x":52.5,"v":34.5},{"t":10,"x":55,"v":30.6},{"t":10,"x":60,"v":22},{"t":10,"x":65,"v":13.3},{"t":10,"x":70,"v":5.7},{"t":10,"x":75,"v":0},
{"t":15,"x":0,"v":0},{"t":15,"x":5,"v":-9.1},{"t":15,"x":10,"v":-20.8},{"t":15,"x":15,"v":-33.9},{"t":15,"x":20,"v":-46.9},{"t":15,"x":22.5,"v":-52.6},{"t":15,"x":25,"v":-55},{"t":15,"x":27.5,"v":-52.6},{"t":15,"x":30,"v":-43.3},{"t":15,"x":32.5,"v":-29.6},{"t":15,"x":35,"v":-14.5},{"t":15,"x":37.5,"v":0},{"t":15,"x":40,"v":14.5},{"t":15,"x":42.5,"v":29.6},{"t":15,"x":45,"v":43.3},{"t":15,"x":47.5,"v":52.6},{"t":15,"x":50,"v":55},{"t":15,"x":52.5,"v":52.6},{"t":15,"x":55,"v":46.9},{"t":15,"x":60,"v":33.9},{"t":15,"x":65,"v":20.8},{"t":15,"x":70,"v":9.1},{"t":15,"x":75,"v":0},
{"t":20,"x":0,"v":0},{"t":20,"x":5,"v":-12.8},{"t":20,"x":10,"v":-28.7},{"t":20,"x":15,"v":-46},{"t":20,"x":20,"v":-63},{"t":20,"x":22.5,"v":-70.6},{"t":20,"x":25,"v":-74},{"t":20,"x":27.5,"v":-70.6},{"t":20,"x":30,"v":-57.9},{"t":20,"x":32.5,"v":-39.5},{"t":20,"x":35,"v":-19.4},{"t":20,"x":37.5,"v":0},{"t":20,"x":40,"v":19.4},{"t":20,"x":42.5,"v":39.5},{"t":20,"x":45,"v":57.9},{"t":20,"x":47.5,"v":70.6},{"t":20,"x":50,"v":74},{"t":20,"x":52.5,"v":70.6},{"t":20,"x":55,"v":63},{"t":20,"x":60,"v":46},{"t":20,"x":65,"v":28.7},{"t":20,"x":70,"v":12.8},{"t":20,"x":75,"v":0},
{"t":25,"x":0,"v":0},{"t":25,"x":5,"v":-16.7},{"t":25,"x":10,"v":-36.5},{"t":25,"x":15,"v":-57.6},{"t":25,"x":20,"v":-78.5},{"t":25,"x":22.5,"v":-87.7},{"t":25,"x":25,"v":-92},{"t":25,"x":27.5,"v":-87.7},{"t":25,"x":30,"v":-71.7},{"t":25,"x":32.5,"v":-48.9},{"t":25,"x":35,"v":-23.9},{"t":25,"x":37.5,"v":0},{"t":25,"x":40,"v":23.9},{"t":25,"x":42.5,"v":48.9},{"t":25,"x":45,"v":71.7},{"t":25,"x":47.5,"v":87.7},{"t":25,"x":50,"v":92},{"t":25,"x":52.5,"v":87.7},{"t":25,"x":55,"v":78.5},{"t":25,"x":60,"v":57.6},{"t":25,"x":65,"v":36.5},{"t":25,"x":70,"v":16.7},{"t":25,"x":75,"v":0},
{"t":30,"x":0,"v":0},{"t":30,"x":5,"v":-20.5},{"t":30,"x":10,"v":-44},{"t":30,"x":15,"v":-68.3},{"t":30,"x":20,"v":-92.1},{"t":30,"x":22.5,"v":-102.8},{"t":30,"x":25,"v":-108},{"t":30,"x":27.5,"v":-102.8},{"t":30,"x":30,"v":-83.7},{"t":30,"x":32.5,"v":-56.9},{"t":30,"x":35,"v":-27.9},{"t":30,"x":37.5,"v":0},{"t":30,"x":40,"v":27.9},{"t":30,"x":42.5,"v":56.9},{"t":30,"x":45,"v":83.7},{"t":30,"x":47.5,"v":102.8},{"t":30,"x":50,"v":108},{"t":30,"x":52.5,"v":102.8},{"t":30,"x":55,"v":92.1},{"t":30,"x":60,"v":68.3},{"t":30,"x":65,"v":44},{"t":30,"x":70,"v":20.5},{"t":30,"x":75,"v":0},
{"t":35,"x":0,"v":0},{"t":35,"x":5,"v":-24.4},{"t":35,"x":10,"v":-51.2},{"t":35,"x":15,"v":-78.4},{"t":35,"x":20,"v":-105},{"t":35,"x":22.5,"v":-116.9},{"t":35,"x":25,"v":-123},{"t":35,"x":27.5,"v":-116.9},{"t":35,"x":30,"v":-94.8},{"t":35,"x":32.5,"v":-64.3},{"t":35,"x":35,"v":-31.5},{"t":35,"x":37.5,"v":0},{"t":35,"x":40,"v":31.5},{"t":35,"x":42.5,"v":64.3},{"t":35,"x":45,"v":94.8},{"t":35,"x":47.5,"v":116.9},{"t":35,"x":50,"v":123},{"t":35,"x":52.5,"v":116.9},{"t":35,"x":55,"v":105},{"t":35,"x":60,"v":78.4},{"t":35,"x":65,"v":51.2},{"t":35,"x":70,"v":24.4},{"t":35,"x":75,"v":0},
{"t":40,"x":0,"v":0},{"t":40,"x":5,"v":-28.4},{"t":40,"x":10,"v":-58.2},{"t":40,"x":15,"v":-88},{"t":40,"x":20,"v":-117},{"t":40,"x":22.5,"v":-130},{"t":40,"x":25,"v":-137},{"t":40,"x":27.5,"v":-130},{"t":40,"x":30,"v":-105.1},{"t":40,"x":32.5,"v":-71.1},{"t":40,"x":35,"v":-34.8},{"t":40,"x":37.5,"v":0},{"t":40,"x":40,"v":34.8},{"t":40,"x":42.5,"v":71.1},{"t":40,"x":45,"v":105.1},{"t":40,"x":47.5,"v":130},{"t":40,"x":50,"v":137},{"t":40,"x":52.5,"v":130},{"t":40,"x":55,"v":117},{"t":40,"x":60,"v":88},{"t":40,"x":65,"v":58.2},{"t":40,"x":70,"v":28.4},{"t":40,"x":75,"v":0},
{"t":45,"x":0,"v":0},{"t":45,"x":5,"v":-32},{"t":45,"x":10,"v":-64.8},{"t":45,"x":15,"v":-96.6},{"t":45,"x":20,"v":-127.4},{"t":45,"x":22.5,"v":-141.3},{"t":45,"x":25,"v":-149},{"t":45,"x":27.5,"v":-141.3},{"t":45,"x":30,"v":-113.7},{"t":45,"x":32.5,"v":-76.7},{"t":45,"x":35,"v":-37.7},{"t":45,"x":37.5,"v":0},{"t":45,"x":40,"v":37.7},{"t":45,"x":42.5,"v":76.7},{"t":45,"x":45,"v":113.7},{"t":45,"x":47.5,"v":141.3},{"t":45,"x":50,"v":149},{"t":45,"x":52.5,"v":141.3},{"t":45,"x":55,"v":127.4},{"t":45,"x":60,"v":96.6},{"t":45,"x":65,"v":64.8},{"t":45,"x":70,"v":32},{"t":45,"x":75,"v":0},
{"t":50,"x":0,"v":0},{"t":50,"x":5,"v":-35.7},{"t":50,"x":10,"v":-71},{"t":50,"x":15,"v":-104.5},{"t":50,"x":20,"v":-137},{"t":50,"x":22.5,"v":-151.4},{"t":50,"x":25,"v":-160},{"t":50,"x":27.5,"v":-151.4},{"t":50,"x":30,"v":-121.3},{"t":50,"x":32.5,"v":-81.8},{"t":50,"x":35,"v":-40.2},{"t":50,"x":37.5,"v":0},{"t":50,"x":40,"v":40.2},{"t":50,"x":42.5,"v":81.8},{"t":50,"x":45,"v":121.3},{"t":50,"x":47.5,"v":151.4},{"t":50,"x":50,"v":160},{"t":50,"x":52.5,"v":151.4},{"t":50,"x":55,"v":137},{"t":50,"x":60,"v":104.5},{"t":50,"x":65,"v":71},{"t":50,"x":70,"v":35.7},{"t":50,"x":75,"v":0},
{"t":55,"x":0,"v":0},{"t":55,"x":5,"v":-39.4},{"t":55,"x":10,"v":-77.2},{"t":55,"x":15,"v":-111.9},{"t":55,"x":20,"v":-145.5},{"t":55,"x":22.5,"v":-160.7},{"t":55,"x":25,"v":-170},{"t":55,"x":27.5,"v":-160.7},{"t":55,"x":30,"v":-128.2},{"t":55,"x":32.5,"v":-86.2},{"t":55,"x":35,"v":-42.3},{"t":55,"x":37.5,"v":0},{"t":55,"x":40,"v":42.3},{"t":55,"x":42.5,"v":86.2},{"t":55,"x":45,"v":128.2},{"t":55,"x":47.5,"v":160.7},{"t":55,"x":50,"v":170},{"t":55,"x":52.5,"v":160.7},{"t":55,"x":55,"v":145.5},{"t":55,"x":60,"v":111.9},{"t":55,"x":65,"v":77.2},{"t":55,"x":70,"v":39.4},{"t":55,"x":75,"v":0},
{"t":60,"x":0,"v":0},{"t":60,"x":5,"v":-42.7},{"t":60,"x":10,"v":-82.4},{"t":60,"x":15,"v":-118},{"t":60,"x":20,"v":-152.5},{"t":60,"x":22.5,"v":-167.9},{"t":60,"x":25,"v":-178},{"t":60,"x":27.5,"v":-167.9},{"t":60,"x":30,"v":-133.5},{"t":60,"x":32.5,"v":-89.5},{"t":60,"x":35,"v":-44},{"t":60,"x":37.5,"v":0},{"t":60,"x":40,"v":44},{"t":60,"x":42.5,"v":89.5},{"t":60,"x":45,"v":133.5},{"t":60,"x":47.5,"v":167.9},{"t":60,"x":50,"v":178},{"t":60,"x":52.5,"v":167.9},{"t":60,"x":55,"v":152.5},{"t":60,"x":60,"v":118},{"t":60,"x":65,"v":82.4},{"t":60,"x":70,"v":42.7},{"t":60,"x":75,"v":0},
{"t":65,"x":0,"v":0},{"t":65,"x":5,"v":-45.9},{"t":65,"x":10,"v":-87.5},{"t":65,"x":15,"v":-123.8},{"t":65,"x":20,"v":-158.5},{"t":65,"x":22.5,"v":-174.3},{"t":65,"x":25,"v":-185},{"t":65,"x":27.5,"v":-174.3},{"t":65,"x":30,"v":-138},{"t":65,"x":32.5,"v":-92.3},{"t":65,"x":35,"v":-45.3},{"t":65,"x":37.5,"v":0},{"t":65,"x":40,"v":45.3},{"t":65,"x":42.5,"v":92.3},{"t":65,"x":45,"v":138},{"t":65,"x":47.5,"v":174.3},{"t":65,"x":50,"v":185},{"t":65,"x":52.5,"v":174.3},{"t":65,"x":55,"v":158.5},{"t":65,"x":60,"v":123.8},{"t":65,"x":65,"v":87.5},{"t":65,"x":70,"v":45.9},{"t":65,"x":75,"v":0},
{"t":70,"x":0,"v":0},{"t":70,"x":5,"v":-48.8},{"t":70,"x":10,"v":-91.6},{"t":70,"x":15,"v":-128.1},{"t":70,"x":20,"v":-163},{"t":70,"x":22.5,"v":-178.8},{"t":70,"x":25,"v":-190},{"t":70,"x":27.5,"v":-178.8},{"t":70,"x":30,"v":-141},{"t":70,"x":32.5,"v":-94.2},{"t":70,"x":35,"v":-46.2},{"t":70,"x":37.5,"v":0},{"t":70,"x":40,"v":46.2},{"t":70,"x":42.5,"v":94.2},{"t":70,"x":45,"v":141},{"t":70,"x":47.5,"v":178.8},{"t":70,"x":50,"v":190},{"t":70,"x":52.5,"v":178.8},{"t":70,"x":55,"v":163},{"t":70,"x":60,"v":128.1},{"t":70,"x":65,"v":91.6},{"t":70,"x":70,"v":48.8},{"t":70,"x":75,"v":0},
{"t":75,"x":0,"v":0},{"t":75,"x":5,"v":-51.4},{"t":75,"x":10,"v":-95.4},{"t":75,"x":15,"v":-131.7},{"t":75,"x":20,"v":-166.5},{"t":75,"x":22.5,"v":-182.2},{"t":75,"x":25,"v":-194},{"t":75,"x":27.5,"v":-182.2},{"t":75,"x":30,"v":-143.2},{"t":75,"x":32.5,"v":-95.4},{"t":75,"x":35,"v":-46.8},{"t":75,"x":37.5,"v":0},{"t":75,"x":40,"v":46.8},{"t":75,"x":42.5,"v":95.4},{"t":75,"x":45,"v":143.2},{"t":75,"x":47.5,"v":182.2},{"t":75,"x":50,"v":194},{"t":75,"x":52.5,"v":182.2},{"t":75,"x":55,"v":166.5},{"t":75,"x":60,"v":131.7},{"t":75,"x":65,"v":95.4},{"t":75,"x":70,"v":51.4},{"t":75,"x":75,"v":0},
{"t":80,"x":0,"v":0},{"t":80,"x":5,"v":-53.8},{"t":80,"x":10,"v":-98.7},{"t":80,"x":15,"v":-134.7},{"t":80,"x":20,"v":-169.2},{"t":80,"x":22.5,"v":-184.8},{"t":80,"x":25,"v":-197},{"t":80,"x":27.5,"v":-184.8},{"t":80,"x":30,"v":-144.4},{"t":80,"x":32.5,"v":-96.1},{"t":80,"x":35,"v":-47.1},{"t":80,"x":37.5,"v":0},{"t":80,"x":40,"v":47.1},{"t":80,"x":42.5,"v":96.1},{"t":80,"x":45,"v":144.4},{"t":80,"x":47.5,"v":184.8},{"t":80,"x":50,"v":197},{"t":80,"x":52.5,"v":184.8},{"t":80,"x":55,"v":169.2},{"t":80,"x":60,"v":134.7},{"t":80,"x":65,"v":98.7},{"t":80,"x":70,"v":53.8},{"t":80,"x":75,"v":0},
{"t":85,"x":0,"v":0},{"t":85,"x":5,"v":-56.1},{"t":85,"x":10,"v":-101.7},{"t":85,"x":15,"v":-137.3},{"t":85,"x":20,"v":-170.9},{"t":85,"x":22.5,"v":-186.3},{"t":85,"x":25,"v":-199},{"t":85,"x":27.5,"v":-186.3},{"t":85,"x":30,"v":-145.1},{"t":85,"x":32.5,"v":-96.3},{"t":85,"x":35,"v":-47.2},{"t":85,"x":37.5,"v":0},{"t":85,"x":40,"v":47.2},{"t":85,"x":42.5,"v":96.3},{"t":85,"x":45,"v":145.1},{"t":85,"x":47.5,"v":186.3},{"t":85,"x":50,"v":199},{"t":85,"x":52.5,"v":186.3},{"t":85,"x":55,"v":170.9},{"t":85,"x":60,"v":137.3},{"t":85,"x":65,"v":101.7},{"t":85,"x":70,"v":56.1},{"t":85,"x":75,"v":0},
{"t":90,"x":0,"v":0},{"t":90,"x":5,"v":-58},{"t":90,"x":10,"v":-104},{"t":90,"x":15,"v":-139},{"t":90,"x":20,"v":-172},{"t":90,"x":22.5,"v":-187},{"t":90,"x":25,"v":-200},{"t":90,"x":27.5,"v":-187},{"t":90,"x":30,"v":-145},{"t":90,"x":32.5,"v":-96},{"t":90,"x":35,"v":-47},{"t":90,"x":37.5,"v":0},{"t":90,"x":40,"v":47},{"t":90,"x":42.5,"v":96},{"t":90,"x":45,"v":145},{"t":90,"x":47.5,"v":187},{"t":90,"x":50,"v":200},{"t":90,"x":52.5,"v":187},{"t":90,"x":55,"v":172},{"t":90,"x":60,"v":139},{"t":90,"x":65,"v":104},{"t":90,"x":70,"v":58},{"t":90,"x":75,"v":0}]
},
"spacing":7,
"resolve":{"scale":{"color":"independent"},"legend":{"color":"independent"}},
"hconcat":[
{"columns":2,"bounds":"flush","spacing":{"row":65,"column":158},
 "resolve":{"scale":{"color":"independent"},"legend":{"color":"independent"}},
 "concat":[
   {"width":209,"height":208,"view":{"stroke":"#999999"},
    "layer":[
     {"data":{"name":"ra"},"mark":{"type":"circle","opacity":1,"strokeWidth":0},
      "encoding":{
       "x":{"datum":37.5,"type":"quantitative","scale":{"domain":[0,75],"nice":false,"zero":false},"axis":{"values":[0,25,50,75],"title":"x [nm]","labelFontSize":16,"titleFontSize":21,"tickSize":5,"labelPadding":3,"titlePadding":2}},
       "y":{"datum":37.5,"type":"quantitative","scale":{"domain":[0,75],"nice":false,"zero":false},"axis":{"values":[0,25,50,75],"title":"y [nm]","labelFontSize":16,"titleFontSize":21,"tickSize":5,"labelPadding":3,"titlePadding":3}},
       "size":{"field":"r","type":"quantitative","scale":{"type":"pow","exponent":2,"domain":[0,37.5],"range":[0,43681],"zero":true},"legend":null},
       "color":{"field":"v","type":"quantitative","scale":{"domain":[-20,0,20],"range":["#0000ff","#ffffff","#ff0000"],"interpolate":"rgb"},
        "legend":{"title":null,"values":[-20,-10,0,10,20],"orient":"right","direction":"vertical","offset":0,"padding":0,"gradientLength":208,"gradientThickness":20,"gradientStrokeColor":"#444444","gradientStrokeWidth":0.6,"labelFontSize":16,"labelOffset":6,"labelExpr":"replace(datum.label,'-','−')"}}}},
     {"data":{"values":[{"r":36}]},"mark":{"type":"point","filled":false,"opacity":1,"stroke":"#aaaaaa","strokeWidth":0.8},
      "encoding":{"x":{"datum":37.5,"type":"quantitative"},"y":{"datum":37.5,"type":"quantitative"},"size":{"field":"r","type":"quantitative","scale":{"type":"pow","exponent":2,"domain":[0,37.5],"range":[0,43681],"zero":true},"legend":null}}},
     {"data":{"values":[{}]},"mark":{"type":"text","text":"a","fontSize":23,"align":"left","baseline":"alphabetic","color":"#000000"},
      "encoding":{"x":{"datum":1.2,"type":"quantitative"},"y":{"datum":67.4,"type":"quantitative"}}},
     {"data":{"values":[{}]},"mark":{"type":"text","text":"Electronic phase-image","fontSize":26,"align":"center","baseline":"alphabetic","color":"#000000"},
      "encoding":{"x":{"datum":39,"type":"quantitative"},"y":{"datum":85.46,"type":"quantitative"}}},
     {"data":{"values":[{}]},"mark":{"type":"text","text":"φelec [mrad]","font":"Liberation Serif","fontSize":20,"angle":270,"align":"center","baseline":"middle","color":"#1a1a1a"},
      "encoding":{"x":{"datum":104,"type":"quantitative"},"y":{"datum":37.5,"type":"quantitative"}}},
     {"data":{"values":[{}]},"mark":{"type":"text","text":"Hopfion","fontSize":27,"angle":270,"align":"center","baseline":"middle","color":"#000000"},
      "encoding":{"x":{"datum":-24.4,"type":"quantitative"},"y":{"datum":41.1,"type":"quantitative"}}},
     {"data":{"values":[{}]},"mark":{"type":"rule","color":"#ffffff","strokeWidth":1},
      "encoding":{"x":{"datum":-29.8,"type":"quantitative"},"x2":{"datum":0},"y":{"datum":94.47,"type":"quantitative"}}}
    ]},
   {"width":209,"height":208,"view":{"stroke":"#999999"},
    "layer":[
     {"data":{"name":"rd"},"mark":{"type":"circle","opacity":1,"strokeWidth":0},
      "encoding":{
       "x":{"datum":37.5,"type":"quantitative","scale":{"domain":[0,75],"nice":false,"zero":false},"axis":{"values":[0,25,50,75],"title":"x [nm]","labelFontSize":16,"titleFontSize":21,"tickSize":5,"labelPadding":3,"titlePadding":2}},
       "y":{"datum":37.5,"type":"quantitative","scale":{"domain":[0,75],"nice":false,"zero":false},"axis":{"values":[0,20,40,60],"title":"y [nm]","labelFontSize":16,"titleFontSize":21,"tickSize":5,"labelPadding":3,"titlePadding":3}},
       "size":{"field":"r","type":"quantitative","scale":{"type":"pow","exponent":2,"domain":[0,37.5],"range":[0,43681],"zero":true},"legend":null},
       "color":{"field":"v","type":"quantitative","scale":{"domain":[-400,0,400],"range":["#0000ff","#ffffff","#ff0000"],"interpolate":"rgb"},
        "legend":{"title":null,"values":[-400,-200,0,200,400],"orient":"right","direction":"vertical","offset":0,"padding":0,"gradientLength":208,"gradientThickness":20,"gradientStrokeColor":"#444444","gradientStrokeWidth":0.6,"labelFontSize":16,"labelOffset":6,"labelExpr":"replace(datum.label,'-','−')"}}}},
     {"data":{"values":[{}]},"mark":{"type":"text","text":"d","fontSize":23,"align":"left","baseline":"alphabetic","color":"#000000"},
      "encoding":{"x":{"datum":1.3,"type":"quantitative"},"y":{"datum":67.4,"type":"quantitative"}}},
     {"data":{"values":[{}]},"mark":{"type":"text","text":"Magnetic phase-image","fontSize":26,"align":"center","baseline":"alphabetic","color":"#000000"},
      "encoding":{"x":{"datum":38.4,"type":"quantitative"},"y":{"datum":85.46,"type":"quantitative"}}},
     {"data":{"values":[{}]},"mark":{"type":"text","text":"φmag [mrad]","font":"Liberation Serif","fontSize":20,"angle":270,"align":"center","baseline":"middle","color":"#1a1a1a"},
      "encoding":{"x":{"datum":104,"type":"quantitative"},"y":{"datum":37.5,"type":"quantitative"}}},
     {"data":{"values":[{}]},"mark":{"type":"rule","color":"#ffffff","strokeWidth":1},
      "encoding":{"x":{"datum":0,"type":"quantitative"},"x2":{"datum":110.2},"y":{"datum":94.47,"type":"quantitative"}}}
    ]},
   {"width":209,"height":208,"view":{"stroke":"#999999"},
    "layer":[
     {"data":{"name":"rb"},"mark":{"type":"circle","opacity":1,"strokeWidth":0},
      "encoding":{
       "x":{"datum":37.5,"type":"quantitative","scale":{"domain":[0,75],"nice":false,"zero":false},"axis":{"values":[0,25,50,75],"title":"x [nm]","labelFontSize":16,"titleFontSize":21,"tickSize":5,"labelPadding":3,"titlePadding":2}},
       "y":{"datum":37.5,"type":"quantitative","scale":{"domain":[0,75],"nice":false,"zero":false},"axis":{"values":[0,25,50,75],"title":"y [nm]","labelFontSize":16,"titleFontSize":21,"tickSize":5,"labelPadding":3,"titlePadding":3}},
       "size":{"field":"r","type":"quantitative","scale":{"type":"pow","exponent":2,"domain":[0,37.5],"range":[0,43681],"zero":true},"legend":null},
       "color":{"field":"v","type":"quantitative","scale":{"domain":[0,60],"range":["#ffffff","#ff0000"],"interpolate":"rgb"},
        "legend":{"title":null,"values":[0,20,40,60],"orient":"right","direction":"vertical","offset":0,"padding":0,"gradientLength":208,"gradientThickness":20,"gradientStrokeColor":"#444444","gradientStrokeWidth":0.6,"labelFontSize":16,"labelOffset":6}}}},
     {"data":{"values":[{"r":27.5}]},"mark":{"type":"point","filled":false,"opacity":1,"stroke":"#aaaaaa","strokeWidth":0.8},
      "encoding":{"x":{"datum":37.5,"type":"quantitative"},"y":{"datum":37.5,"type":"quantitative"},"size":{"field":"r","type":"quantitative","scale":{"type":"pow","exponent":2,"domain":[0,37.5],"range":[0,43681],"zero":true},"legend":null}}},
     {"data":{"values":[{}]},"mark":{"type":"text","text":"b","fontSize":23,"align":"left","baseline":"alphabetic","color":"#000000"},
      "encoding":{"x":{"datum":1.2,"type":"quantitative"},"y":{"datum":67.4,"type":"quantitative"}}},
     {"data":{"values":[{}]},"mark":{"type":"text","text":"φelec [mrad]","font":"Liberation Serif","fontSize":20,"angle":270,"align":"center","baseline":"middle","color":"#1a1a1a"},
      "encoding":{"x":{"datum":104,"type":"quantitative"},"y":{"datum":37.5,"type":"quantitative"}}},
     {"data":{"values":[{}]},"mark":{"type":"text","text":"Néel-skyrmion","fontSize":27,"angle":270,"align":"center","baseline":"middle","color":"#000000"},
      "encoding":{"x":{"datum":-24.4,"type":"quantitative"},"y":{"datum":41.1,"type":"quantitative"}}}
    ]},
   {"width":209,"height":208,"view":{"stroke":"#999999"},
    "layer":[
     {"data":{"name":"re"},"mark":{"type":"circle","opacity":1,"strokeWidth":0},
      "encoding":{
       "x":{"datum":37.5,"type":"quantitative","scale":{"domain":[0,75],"nice":false,"zero":false},"axis":{"values":[0,25,50,75],"title":"x [nm]","labelFontSize":16,"titleFontSize":21,"tickSize":5,"labelPadding":3,"titlePadding":2}},
       "y":{"datum":37.5,"type":"quantitative","scale":{"domain":[0,75],"nice":false,"zero":false},"axis":{"values":[0,20,40,60],"title":"y [nm]","labelFontSize":16,"titleFontSize":21,"tickSize":5,"labelPadding":3,"titlePadding":3}},
       "size":{"field":"r","type":"quantitative","scale":{"type":"pow","exponent":2,"domain":[0,37.5],"range":[0,43681],"zero":true},"legend":null},
       "color":{"field":"v","type":"quantitative","scale":{"domain":[-400,0,400],"range":["#0000ff","#ffffff","#ff0000"],"interpolate":"rgb"},
        "legend":{"title":null,"values":[-400,-200,0,200,400],"orient":"right","direction":"vertical","offset":0,"padding":0,"gradientLength":208,"gradientThickness":20,"gradientStrokeColor":"#444444","gradientStrokeWidth":0.6,"labelFontSize":16,"labelOffset":6,"labelExpr":"replace(datum.label,'-','−')"}}}},
     {"data":{"values":[{}]},"mark":{"type":"text","text":"e","fontSize":23,"align":"left","baseline":"alphabetic","color":"#000000"},
      "encoding":{"x":{"datum":1.3,"type":"quantitative"},"y":{"datum":67.4,"type":"quantitative"}}},
     {"data":{"values":[{}]},"mark":{"type":"text","text":"φmag [mrad]","font":"Liberation Serif","fontSize":20,"angle":270,"align":"center","baseline":"middle","color":"#1a1a1a"},
      "encoding":{"x":{"datum":104,"type":"quantitative"},"y":{"datum":37.5,"type":"quantitative"}}}
    ]},
   {"width":209,"height":208,"view":{"stroke":"#999999"},
    "layer":[
     {"data":{"name":"rc"},"mark":{"type":"circle","opacity":1,"strokeWidth":0},
      "encoding":{
       "x":{"datum":37.5,"type":"quantitative","scale":{"domain":[0,75],"nice":false,"zero":false},"axis":{"values":[0,25,50,75],"title":"x [nm]","labelFontSize":16,"titleFontSize":21,"tickSize":5,"labelPadding":3,"titlePadding":2}},
       "y":{"datum":37.5,"type":"quantitative","scale":{"domain":[0,75],"nice":false,"zero":false},"axis":{"values":[0,25,50,75],"title":"y [nm]","labelFontSize":16,"titleFontSize":21,"tickSize":5,"labelPadding":3,"titlePadding":3}},
       "size":{"field":"r","type":"quantitative","scale":{"type":"pow","exponent":2,"domain":[0,37.5],"range":[0,43681],"zero":true},"legend":null},
       "color":{"field":"v","type":"quantitative","scale":{"domain":[-40,0,40],"range":["#0000ff","#ffffff","#ff0000"],"interpolate":"rgb"},
        "legend":{"title":null,"values":[-40,-20,0,20,40],"orient":"right","direction":"vertical","offset":0,"padding":0,"gradientLength":208,"gradientThickness":20,"gradientStrokeColor":"#444444","gradientStrokeWidth":0.6,"labelFontSize":16,"labelOffset":6,"labelExpr":"replace(datum.label,'-','−')"}}}},
     {"data":{"values":[{"r":25.4},{"r":0.7}]},"mark":{"type":"point","filled":false,"opacity":1,"stroke":"#aaaaaa","strokeWidth":0.8},
      "encoding":{"x":{"datum":37.5,"type":"quantitative"},"y":{"datum":37.5,"type":"quantitative"},"size":{"field":"r","type":"quantitative","scale":{"type":"pow","exponent":2,"domain":[0,37.5],"range":[0,43681],"zero":true},"legend":null}}},
     {"data":{"values":[{}]},"mark":{"type":"text","text":"c","fontSize":23,"align":"left","baseline":"alphabetic","color":"#000000"},
      "encoding":{"x":{"datum":1.2,"type":"quantitative"},"y":{"datum":67.4,"type":"quantitative"}}},
     {"data":{"values":[{}]},"mark":{"type":"text","text":"φelec [mrad]","font":"Liberation Serif","fontSize":20,"angle":270,"align":"center","baseline":"middle","color":"#1a1a1a"},
      "encoding":{"x":{"datum":104,"type":"quantitative"},"y":{"datum":37.5,"type":"quantitative"}}},
     {"data":{"values":[{}]},"mark":{"type":"text","text":"AFM-Bloch-skyrmion","fontSize":27,"angle":270,"align":"center","baseline":"middle","color":"#000000"},
      "encoding":{"x":{"datum":-24.4,"type":"quantitative"},"y":{"datum":41.1,"type":"quantitative"}}}
    ]},
   {"width":209,"height":208,"view":{"stroke":"#999999"},
    "layer":[
     {"data":{"name":"re"},"mark":{"type":"circle","opacity":1,"strokeWidth":0},
      "encoding":{
       "x":{"datum":37.5,"type":"quantitative","scale":{"domain":[0,75],"nice":false,"zero":false},"axis":{"values":[0,25,50,75],"title":"x [nm]","labelFontSize":16,"titleFontSize":21,"tickSize":5,"labelPadding":3,"titlePadding":2}},
       "y":{"datum":37.5,"type":"quantitative","scale":{"domain":[0,75],"nice":false,"zero":false},"axis":{"values":[0,20,40,60],"title":"y [nm]","labelFontSize":16,"titleFontSize":21,"tickSize":5,"labelPadding":3,"titlePadding":3}},
       "size":{"field":"r","type":"quantitative","scale":{"type":"pow","exponent":2,"domain":[0,37.5],"range":[0,43681],"zero":true},"legend":null},
       "color":{"field":"v","type":"quantitative","scale":{"domain":[-400,0,400],"range":["#0000ff","#ffffff","#ff0000"],"interpolate":"rgb"},
        "legend":{"title":null,"values":[-400,-200,0,200,400],"orient":"right","direction":"vertical","offset":0,"padding":0,"gradientLength":208,"gradientThickness":20,"gradientStrokeColor":"#444444","gradientStrokeWidth":0.6,"labelFontSize":16,"labelOffset":6,"labelExpr":"replace(datum.label,'-','−')"}}}},
     {"data":{"values":[{}]},"mark":{"type":"text","text":"f","fontSize":23,"align":"left","baseline":"alphabetic","color":"#000000"},
      "encoding":{"x":{"datum":1.3,"type":"quantitative"},"y":{"datum":67.4,"type":"quantitative"}}},
     {"data":{"values":[{}]},"mark":{"type":"text","text":"φmag [mrad]","font":"Liberation Serif","fontSize":20,"angle":270,"align":"center","baseline":"middle","color":"#1a1a1a"},
      "encoding":{"x":{"datum":104,"type":"quantitative"},"y":{"datum":37.5,"type":"quantitative"}}}
    ]}
 ]},
{"bounds":"flush","spacing":21,
 "resolve":{"scale":{"color":"independent"},"legend":{"color":"independent"}},
 "vconcat":[
    {"width":1,"height":4,"data":{"values":[{}]},"mark":{"type":"point","opacity":0},"encoding":{}},
    {"width":280,"height":278,"view":{"stroke":"#333333"},
     "layer":[
      {"data":{"name":"gc"},"mark":{"type":"rect"},
       "encoding":{
        "x":{"field":"d0","type":"quantitative","scale":{"domain":[2,20],"nice":false,"zero":false},"axis":{"orient":"top","values":[5,10,15,20],"title":"Skyrmion diameter [nm]","labelFontSize":14,"titleFontSize":20,"tickSize":4,"labelPadding":2,"titlePadding":6}},
        "x2":{"field":"d1"},
        "y":{"field":"v0","type":"quantitative","scale":{"domain":[30,300],"nice":false,"zero":false},"axis":{"values":[100,200,300],"title":"Accelerating voltage [keV]","labelFontSize":14,"titleFontSize":19,"tickSize":4,"labelPadding":2,"titlePadding":6}},
        "y2":{"field":"v1"},
        "color":{"field":"R","type":"quantitative","scale":{"domain":[8,11,15,19,24,28,40,50,75,100,125,150,175],"range":["#6cb4e8","#72b6e6","#a8d4e0","#dce8c0","#f2e6a0","#f5e08c","#f0cc92","#ecbe9a","#e0a6b2","#d08ed2","#c272ea","#d058c0","#e0408a"],"interpolate":"rgb","clamp":true},
         "legend":{"title":null,"values":[25,50,75,100,125,150,175],"orient":"right","direction":"vertical","offset":25,"padding":0,"gradientLength":278,"gradientThickness":29,"gradientStrokeColor":"#555555","gradientStrokeWidth":1,"labelFontSize":14,"labelOffset":2}}}},
      {"data":{"name":"gl"},"mark":{"type":"line","color":"#111111","strokeWidth":1.4},
       "encoding":{"x":{"field":"d","type":"quantitative"},"y":{"field":"V","type":"quantitative"},"detail":{"field":"c","type":"nominal"},"order":{"field":"V","type":"quantitative"}}},
      {"data":{"name":"gt"},"mark":{"type":"text","fontSize":14,"color":"#111111"},
       "encoding":{"x":{"field":"d","type":"quantitative"},"y":{"field":"V","type":"quantitative"},"text":{"field":"t"}}},
      {"data":{"values":[{}]},"mark":{"type":"text","text":"∑ φelec","font":"DejaVu Serif","fontStyle":"italic","fontWeight":"bold","fontSize":21,"color":"#000000"},
       "encoding":{"x":{"datum":21.6,"type":"quantitative"},"y":{"datum":351,"type":"quantitative"}}},
      {"data":{"values":[{}]},"mark":{"type":"text","text":"∑ φmag","font":"DejaVu Serif","fontStyle":"italic","fontWeight":"bold","fontSize":21,"color":"#000000"},
       "encoding":{"x":{"datum":21.7,"type":"quantitative"},"y":{"datum":325,"type":"quantitative"}}},
      {"data":{"values":[{}]},"mark":{"type":"rule","strokeWidth":1.5,"color":"#000000"},
       "encoding":{"x":{"datum":19.03,"type":"quantitative"},"x2":{"datum":24.3},"y":{"datum":339,"type":"quantitative"}}},
      {"data":{"values":[{}]},"mark":{"type":"text","text":"[%]","font":"Liberation Serif","fontSize":22,"color":"#000000"},
       "encoding":{"x":{"datum":25.46,"type":"quantitative"},"y":{"datum":341,"type":"quantitative"}}},
      {"data":{"values":[{}]},"mark":{"type":"text","text":"g","fontSize":25,"align":"left","baseline":"alphabetic","color":"#000000"},
       "encoding":{"x":{"datum":-0.64,"type":"quantitative"},"y":{"datum":329.1,"type":"quantitative"}}},
      {"data":{"values":[{}]},"mark":{"type":"rule","color":"#777777","strokeWidth":1.5},
       "encoding":{"x":{"datum":-2.243,"type":"quantitative"},"y":{"datum":343.7,"type":"quantitative"},"y2":{"datum":-450.7}}},
      {"data":{"values":[{}]},"mark":{"type":"rule","color":"#ffffff","strokeWidth":1},
       "encoding":{"x":{"datum":-2.243,"type":"quantitative"},"x2":{"datum":2},"y":{"datum":376.7,"type":"quantitative"}}}
     ]},
    {"width":320,"height":202,"view":{"stroke":"#333333"},
     "layer":[
      {"data":{"name":"hl"},"mark":{"type":"line","strokeWidth":2.6,"interpolate":"monotone"},
       "encoding":{
        "x":{"field":"x","type":"quantitative","scale":{"domain":[0,75],"nice":false,"zero":false},"axis":{"values":[0,25,50,75],"grid":true,"gridColor":"#777777","title":"x [nm]","labelFontSize":11,"titleFontSize":16,"tickSize":4,"labelPadding":2,"titlePadding":4}},
        "y":{"field":"v","type":"quantitative","scale":{"domain":[0,50],"nice":false},"axis":{"values":[0,10,20,30,40,50],"grid":true,"gridColor":"#999999","title":"φelec [mrad]","labelFontSize":11,"titleFontSize":16,"tickSize":4,"labelPadding":2,"titlePadding":4}},
        "color":{"field":"t","type":"quantitative","scale":{"domain":[0,10,20,30,40,50,60,70,80,90],"range":["#c47cf0","#d08ee0","#dca0c0","#e8b0a4","#f0c490","#f2dc8c","#f0ea90","#d4eab8","#a4d4e4","#6cb4e8"],"interpolate":"rgb"},
         "legend":{"title":"θ [°]","values":[0,30,60,90],"orient":"none","legendX":328,"legendY":-16,"direction":"vertical","gradientLength":202,"gradientThickness":21,"gradientStrokeColor":"#333333","gradientStrokeWidth":1,"labelFontSize":11,"labelOffset":2,"titleFontStyle":"italic","titleFontSize":13,"titlePadding":2}},
        "detail":{"field":"t","type":"quantitative"}}},
      {"data":{"values":[{}]},"mark":{"type":"text","text":"h","fontSize":25,"align":"left","baseline":"alphabetic","color":"#000000"},
       "encoding":{"x":{"datum":-9.6,"type":"quantitative"},"y":{"datum":54.5,"type":"quantitative"}}}
     ]},
    {"width":1,"height":1,"data":{"values":[{}]},"mark":{"type":"point","opacity":0},"encoding":{}},
    {"width":321,"height":201,"view":{"stroke":"#333333"},
     "layer":[
      {"data":{"name":"il"},"mark":{"type":"line","strokeWidth":2.6,"interpolate":"monotone"},
       "encoding":{
        "x":{"field":"x","type":"quantitative","scale":{"domain":[0,75],"nice":false,"zero":false},"axis":{"values":[0,25,50,75],"grid":true,"gridColor":"#777777","title":"x [nm]","labelFontSize":11,"titleFontSize":16,"tickSize":4,"labelPadding":2,"titlePadding":4}},
        "y":{"field":"v","type":"quantitative","scale":{"domain":[-225,225],"nice":false},"axis":{"values":[-225,-150,-75,0,75,150,225],"grid":true,"gridColor":"#999999","title":"φmag [mrad]","labelFontSize":11,"titleFontSize":16,"tickSize":4,"labelPadding":2,"titlePadding":4,"labelExpr":"replace(datum.label,'-','−')"}},
        "color":{"field":"t","type":"quantitative","scale":{"domain":[0,10,20,30,40,50,60,70,80,90],"range":["#c47cf0","#d08ee0","#dca0c0","#e8b0a4","#f0c490","#f2dc8c","#f0ea90","#d4eab8","#a4d4e4","#6cb4e8"],"interpolate":"rgb"},
         "legend":{"title":"θ [°]","values":[0,30,60,90],"orient":"none","legendX":329,"legendY":-16,"direction":"vertical","gradientLength":201,"gradientThickness":21,"gradientStrokeColor":"#333333","gradientStrokeWidth":1,"labelFontSize":11,"labelOffset":2,"titleFontStyle":"italic","titleFontSize":13,"titlePadding":2}},
        "detail":{"field":"t","type":"quantitative"}}},
      {"data":{"values":[{}]},"mark":{"type":"text","text":"i","fontSize":25,"align":"left","baseline":"alphabetic","color":"#000000"},
       "encoding":{"x":{"datum":-11.9,"type":"quantitative"},"y":{"datum":260.8,"type":"quantitative"}}}
     ]}
 ]}
]
}
